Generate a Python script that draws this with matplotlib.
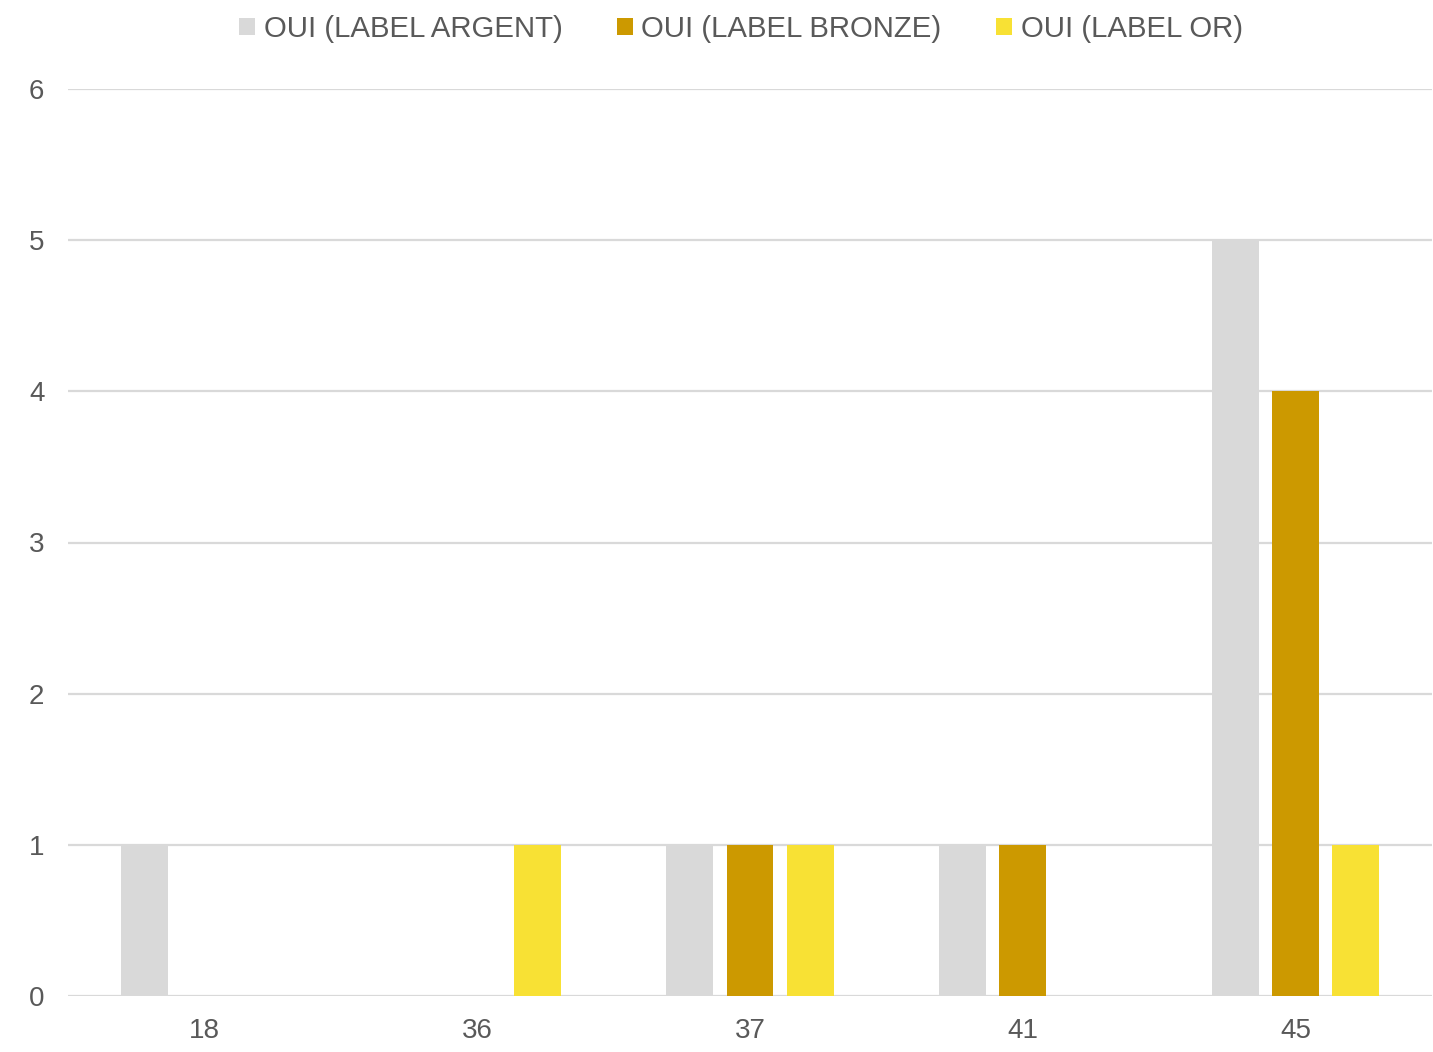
import numpy as np
import matplotlib
matplotlib.use("Agg")
import matplotlib.pyplot as plt

plt.rcParams['font.family'] = ['Liberation Sans', 'DejaVu Sans']

categories = ["18", "36", "37", "41", "45"]
series_names = ["OUI (LABEL ARGENT)", "OUI (LABEL BRONZE)", "OUI (LABEL OR)"]
argent = [1, 0, 1, 1, 5]
bronze = [0, 0, 1, 1, 4]
gold = [0, 1, 1, 0, 1]
colors = ["#D9D9D9", "#CC9900", "#F8E134"]

text_col = "#595959"
grid_col = "#D9D9D9"

fig = plt.figure(figsize=(14.33, 10.52), dpi=100)
ax = fig.add_axes([68 / 1433, 56 / 1052, 1364 / 1433, 907 / 1052])

x = np.arange(len(categories))
step = 0.221
width = 0.172
handles = []
for k, (vals, name, c) in enumerate(zip([argent, bronze, gold], series_names, colors)):
    b = ax.bar(x + (k - 1) * step, vals, width=width, color=c, label=name, zorder=3)
    handles.append(b)

ax.set_xlim(-0.5, len(categories) - 0.5)
ax.set_ylim(0, 6)
ax.set_yticks(range(7))
ax.set_xticks(x)
ax.set_xticklabels(categories)
ax.yaxis.grid(True, color=grid_col, linewidth=1.6, zorder=0)
ax.set_axisbelow(True)
for s in ax.spines.values():
    s.set_visible(False)
ax.tick_params(axis='both', length=0, labelsize=20, colors=text_col)
ax.tick_params(axis='y', pad=17)
ax.tick_params(axis='x', pad=16)

fig.legend(handles=handles, labels=series_names, loc='center',
           bbox_to_anchor=(741 / 1433, 1 - 29 / 1052), ncol=3, frameon=False,
           fontsize=21.2, labelcolor=text_col, handlelength=0.55, handleheight=0.55,
           handletextpad=0.28, columnspacing=1.85)

fig.savefig("out.png", dpi=100)
